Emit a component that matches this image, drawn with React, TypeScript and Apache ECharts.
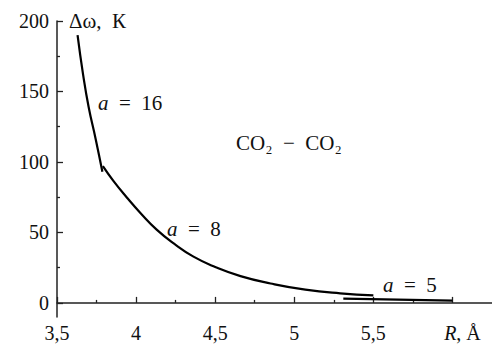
import React, { useEffect, useRef } from "react";
import * as echarts from "echarts";

// Tick values and labels
const xMajor = [3.5, 4, 4.5, 5, 5.5, 6];
const xMinor = [3.75, 4.25, 4.75, 5.25, 5.75];
const xLabels = ["3,5", "4", "4,5", "5", "5,5", "    {i|R}, Å"];
const yMajor = [0, 50, 100, 150, 200];
const yMinor = [25, 75, 125, 175];

// Series a = 16
const a16R = [3.63, 3.665, 3.7, 3.745, 3.787];
const a16W = [190, 162, 139, 116, 93];
// Series a = 8
const a8R = [3.79, 3.86, 3.94, 4.03, 4.13, 4.24, 4.36, 4.5, 4.66, 4.85, 5.07, 5.29, 5.5];
const a8W = [97, 86, 75, 63.5, 52, 42, 33, 25.5, 19, 13.8, 9.4, 6.8, 5.4];
// Series a = 5
const a5R = [5.31, 6.0];
const a5W = [3.0, 1.6];

const FONT = "'Liberation Serif', 'DejaVu Serif', serif";
const FS = 20;
const FA = 21;

const pairs = (xs: number[], ys: number[]) => xs.map((x, i) => [x, ys[i]]);

export default function App() {
  const ref = useRef<HTMLDivElement>(null);
  useEffect(() => {
    document.body.style.margin = "0";
    if (!ref.current) return;
    const chart = echarts.init(ref.current, undefined, { renderer: "svg" });
    const lineSeries = (name: string, xs: number[], ys: number[]) => ({
      name,
      type: "line",
      data: pairs(xs, ys),
      showSymbol: false,
      symbol: "none",
      smooth: 0.5,
      lineStyle: { color: "#000", width: 2.2 },
      xAxisIndex: 0,
      yAxisIndex: 0,
    });
    const annot = (x: number, y: number, text: string) => ({
      type: "text",
      x,
      y,
      style: {
        text,
        fill: "#111",
        fontFamily: FONT,
        fontSize: FA,
        align: "left",
        verticalAlign: "middle",
        textAlign: "left",
        textVerticalAlign: "middle",
        rich: { i: { fontStyle: "italic", fontFamily: FONT, fontSize: FA, fill: "#111" } },
      },
    });
    chart.setOption({
      animation: false,
      backgroundColor: "#fff",
      grid: { left: 57, right: 0, top: 21, bottom: 28, containLabel: false, outerBoundsMode: "none" },
      xAxis: [
        {
          type: "value",
          min: 3.5,
          max: 6.25,
          interval: 0.5,
          position: "bottom",
          splitLine: { show: false },
          axisLine: { show: true, lineStyle: { color: "#222", width: 1.5 } },
          axisTick: { show: true, inside: true, length: 6, customValues: xMajor, lineStyle: { color: "#222", width: 1.3 } },
          axisLabel: {
            show: true,
            customValues: xMajor,
            margin: 6,
            color: "#111",
            fontFamily: FONT,
            fontSize: FS,
            formatter: (v: number) => {
              const i = xMajor.indexOf(v);
              return i >= 0 ? xLabels[i] : "";
            },
            rich: { i: { fontStyle: "italic", fontFamily: FONT, fontSize: FS, color: "#111" } },
          },
        },
        {
          type: "value",
          min: 3.5,
          max: 6.25,
          interval: 0.5,
          position: "bottom",
          gridIndex: 0,
          splitLine: { show: false },
          axisLine: { show: false },
          axisTick: { show: true, inside: true, length: 3, customValues: xMinor, lineStyle: { color: "#222", width: 1.3 } },
          axisLabel: { show: false },
        },
      ],
      yAxis: [
        {
          type: "value",
          min: -10,
          max: 200,
          position: "left",
          splitLine: { show: false },
          axisLine: { show: true, lineStyle: { color: "#222", width: 1.5 } },
          axisTick: { show: true, inside: true, length: 6, customValues: yMajor, lineStyle: { color: "#222", width: 1.3 } },
          axisLabel: {
            show: true,
            customValues: yMajor,
            margin: 8,
            color: "#111",
            fontFamily: FONT,
            fontSize: FS,
            formatter: (v: number) => String(v),
          },
        },
        {
          type: "value",
          min: -10,
          max: 200,
          position: "left",
          gridIndex: 0,
          splitLine: { show: false },
          axisLine: { show: false },
          axisTick: { show: true, inside: true, length: 3, customValues: yMinor, lineStyle: { color: "#222", width: 1.3 } },
          axisLabel: { show: false },
        },
      ],
      series: [
        lineSeries("a = 16", a16R, a16W),
        lineSeries("a = 8", a8R, a8W),
        lineSeries("a = 5", a5R, a5W),
      ],
      graphic: [
        annot(69, 21, "Δω,  К"),
        annot(98, 103, "{i|a}  =  16"),
        annot(167, 229, "{i|a}  =  8"),
        annot(383, 285, "{i|a}  =  5"),
        annot(236, 143, "CO₂  −  CO₂"),
      ],
    });
    return () => chart.dispose();
  }, []);
  return <div ref={ref} style={{ width: 492, height: 345 }} />;
}
